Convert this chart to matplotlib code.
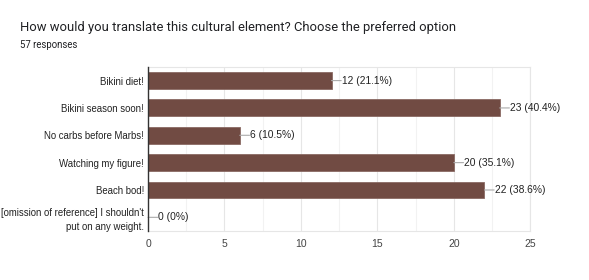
import matplotlib
matplotlib.use("Agg")
import matplotlib.pyplot as plt
import numpy as np

categories = ["Bikini diet!", "Bikini season soon!", "No carbs before Marbs!",
              "Watching my figure!", "Beach bod!",
              "[omission of reference] I shouldn't\nput on any weight."]
values = [12, 23, 6, 20, 22, 0]
percents = ["21.1%", "40.4%", "10.5%", "35.1%", "38.6%", "0%"]
title = "How would you translate this cultural element? Choose the preferred option"
subtitle = "57 responses"
xticks = [0, 5, 10, 15, 20, 25]

fig = plt.figure(figsize=(5.89, 2.8), dpi=100)
fig.patch.set_facecolor("white")
ax = fig.add_axes([0.2513, 0.175, 0.649, 0.586])

y = np.arange(len(categories))
bar_color = "#714B43"
ax.barh(y, values, height=0.62, color=bar_color, edgecolor="#8a6a64", linewidth=0.6, zorder=3)
ax.set_ylim(len(categories) - 0.5, -0.5)
ax.set_xlim(0, 25)

ax.set_xticks(xticks)
ax.set_xticks(np.arange(2.5, 25, 5), minor=True)
ax.grid(axis="x", which="major", color="#e6e6e6", linewidth=0.8, zorder=0)
ax.grid(axis="x", which="minor", color="#f2f2f2", linewidth=0.8, zorder=0)
ax.tick_params(axis="x", which="both", length=0, labelsize=7.5, labelcolor="#444444", pad=6)
ax.set_yticks(y)
ax.set_yticklabels(categories, fontsize=6.9, color="#222222", linespacing=1.4)
ax.tick_params(axis="y", length=0, pad=3)

for s in ["top", "right", "bottom"]:
    ax.spines[s].set_color("#e6e6e6")
    ax.spines[s].set_linewidth(0.8)
ax.spines["left"].set_color("#333333")
ax.spines["left"].set_linewidth(1.0)
ax.spines["left"].set_zorder(4)

for yi, v, p in zip(y, values, percents):
    ax.annotate("", xy=(v, yi), xytext=(7, 0), textcoords="offset points",
                arrowprops=dict(arrowstyle="-", color="#aaaaaa", lw=0.8, shrinkA=0, shrinkB=0))
    ax.annotate(f"{v} ({p})", xy=(v, yi), xytext=(7.5, 0), textcoords="offset points",
                va="center", ha="left", fontsize=7.4, color="#222222")

fig.text(20 / 589, 1 - 28 / 280, title, fontsize=9.4, color="#202124",
         family=["Roboto", "DejaVu Sans"], va="center", ha="left")
fig.text(20 / 589, 1 - 45 / 280, subtitle, fontsize=6.9, color="#202124",
         family=["Roboto", "DejaVu Sans"], va="center", ha="left")

for lbl in ax.get_xticklabels() + ax.get_yticklabels():
    lbl.set_family(["Liberation Sans", "DejaVu Sans"])
for t in ax.texts:
    t.set_family(["Liberation Sans", "DejaVu Sans"])

fig.savefig("out.png", dpi=100)
